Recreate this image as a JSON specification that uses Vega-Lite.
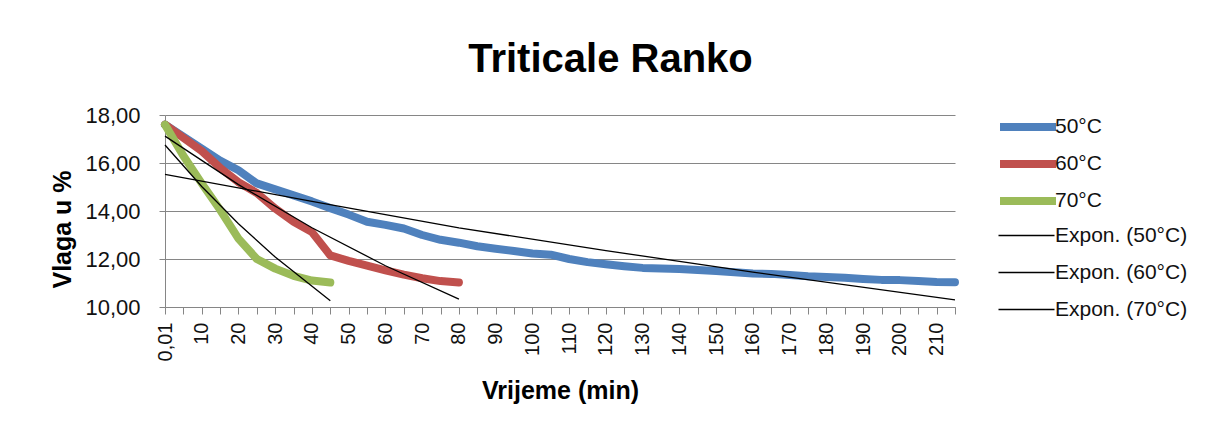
{
  "$schema": "https://vega.github.io/schema/vega-lite/v6.json",
  "width": 790,
  "height": 192,
  "autosize": {"type": "none"},
  "padding": {"left": 165, "top": 115, "right": 257, "bottom": 128},
  "background": "white",
  "config": {
    "font": "Liberation Sans",
    "view": {"stroke": null}
  },
  "title": {
    "text": "Triticale Ranko",
    "font": "Liberation Sans",
    "fontSize": 40,
    "fontWeight": "bold",
    "color": "#000000",
    "anchor": "middle",
    "frame": "bounds",
    "offset": 24,
    "dx": -9
  },
  "encoding": {
    "x": {
      "field": "t",
      "type": "quantitative",
      "scale": {"domain": [0.01, 215], "nice": false, "zero": false},
      "axis": {
        "title": "Vrijeme (min)",
        "values": [0.01, 5, 10, 15, 20, 25, 30, 35, 40, 45, 50, 55, 60, 65, 70, 75, 80, 85, 90, 95, 100, 105, 110, 115, 120, 125, 130, 135, 140, 145, 150, 155, 160, 165, 170, 175, 180, 185, 190, 195, 200, 205, 210, 215],
        "labelExpr": "datum.value < 1 ? '0,01' : (datum.value % 10 == 0 ? '' + datum.value : '')",
        "labelAngle": -90,
        "labelFontSize": 20,
        "labelColor": "#111111",
        "labelPadding": 8,
        "labelOverlap": false,
        "labelFlush": false,
        "labelBound": false,
        "tickSize": 7,
        "tickColor": "#868686",
        "domainColor": "#868686",
        "grid": false,
        "titleFontSize": 25,
        "titleFontWeight": "bold",
        "titleColor": "#000000",
        "titlePadding": 18
      }
    },
    "y": {
      "field": "v",
      "type": "quantitative",
      "scale": {"domain": [10, 18], "nice": false, "zero": false},
      "axis": {
        "title": "Vlaga u %",
        "values": [10, 12, 14, 16, 18],
        "labelExpr": "replace(format(datum.value, '.2f'), '.', ',')",
        "labelFontSize": 22,
        "labelColor": "#111111",
        "labelPadding": 19,
        "tickSize": 6,
        "tickColor": "#868686",
        "domainColor": "#868686",
        "grid": true,
        "gridColor": "#868686",
        "gridWidth": 1,
        "titleFontSize": 25,
        "titleFontWeight": "bold",
        "titleColor": "#000000",
        "titlePadding": 9,
        "titleY": 114
      }
    }
  },
  "layer": [
    {
      "data": {
        "values": [
          {"t": 0.01, "v": 17.6, "s": "50°C"},
          {"t": 5, "v": 17.1, "s": "50°C"},
          {"t": 10, "v": 16.6, "s": "50°C"},
          {"t": 15, "v": 16.1, "s": "50°C"},
          {"t": 20, "v": 15.7, "s": "50°C"},
          {"t": 25, "v": 15.15, "s": "50°C"},
          {"t": 30, "v": 14.9, "s": "50°C"},
          {"t": 35, "v": 14.65, "s": "50°C"},
          {"t": 40, "v": 14.4, "s": "50°C"},
          {"t": 45, "v": 14.12, "s": "50°C"},
          {"t": 50, "v": 13.85, "s": "50°C"},
          {"t": 55, "v": 13.55, "s": "50°C"},
          {"t": 60, "v": 13.42, "s": "50°C"},
          {"t": 65, "v": 13.27, "s": "50°C"},
          {"t": 70, "v": 13.0, "s": "50°C"},
          {"t": 75, "v": 12.8, "s": "50°C"},
          {"t": 80, "v": 12.68, "s": "50°C"},
          {"t": 85, "v": 12.53, "s": "50°C"},
          {"t": 90, "v": 12.43, "s": "50°C"},
          {"t": 95, "v": 12.33, "s": "50°C"},
          {"t": 100, "v": 12.23, "s": "50°C"},
          {"t": 105, "v": 12.18, "s": "50°C"},
          {"t": 110, "v": 12.0, "s": "50°C"},
          {"t": 115, "v": 11.87, "s": "50°C"},
          {"t": 120, "v": 11.78, "s": "50°C"},
          {"t": 125, "v": 11.7, "s": "50°C"},
          {"t": 130, "v": 11.63, "s": "50°C"},
          {"t": 135, "v": 11.6, "s": "50°C"},
          {"t": 140, "v": 11.58, "s": "50°C"},
          {"t": 145, "v": 11.54, "s": "50°C"},
          {"t": 150, "v": 11.5, "s": "50°C"},
          {"t": 155, "v": 11.45, "s": "50°C"},
          {"t": 160, "v": 11.4, "s": "50°C"},
          {"t": 165, "v": 11.38, "s": "50°C"},
          {"t": 170, "v": 11.33, "s": "50°C"},
          {"t": 175, "v": 11.28, "s": "50°C"},
          {"t": 180, "v": 11.25, "s": "50°C"},
          {"t": 185, "v": 11.22, "s": "50°C"},
          {"t": 190, "v": 11.17, "s": "50°C"},
          {"t": 195, "v": 11.13, "s": "50°C"},
          {"t": 200, "v": 11.12, "s": "50°C"},
          {"t": 205, "v": 11.08, "s": "50°C"},
          {"t": 210, "v": 11.04, "s": "50°C"},
          {"t": 215, "v": 11.03, "s": "50°C"},
          {"t": 0.01, "v": 17.6, "s": "60°C"},
          {"t": 5, "v": 17.05, "s": "60°C"},
          {"t": 10, "v": 16.5, "s": "60°C"},
          {"t": 15, "v": 15.8, "s": "60°C"},
          {"t": 20, "v": 15.2, "s": "60°C"},
          {"t": 25, "v": 14.75, "s": "60°C"},
          {"t": 30, "v": 14.1, "s": "60°C"},
          {"t": 35, "v": 13.55, "s": "60°C"},
          {"t": 40, "v": 13.12, "s": "60°C"},
          {"t": 45, "v": 12.15, "s": "60°C"},
          {"t": 50, "v": 11.92, "s": "60°C"},
          {"t": 55, "v": 11.72, "s": "60°C"},
          {"t": 60, "v": 11.53, "s": "60°C"},
          {"t": 65, "v": 11.35, "s": "60°C"},
          {"t": 70, "v": 11.2, "s": "60°C"},
          {"t": 75, "v": 11.08, "s": "60°C"},
          {"t": 80, "v": 11.02, "s": "60°C"},
          {"t": 0.01, "v": 17.6, "s": "70°C"},
          {"t": 5, "v": 16.3, "s": "70°C"},
          {"t": 10, "v": 15.15, "s": "70°C"},
          {"t": 15, "v": 14.05, "s": "70°C"},
          {"t": 20, "v": 12.85, "s": "70°C"},
          {"t": 25, "v": 12.0, "s": "70°C"},
          {"t": 30, "v": 11.6, "s": "70°C"},
          {"t": 35, "v": 11.3, "s": "70°C"},
          {"t": 40, "v": 11.1, "s": "70°C"},
          {"t": 45, "v": 11.02, "s": "70°C"}
        ]
      },
      "mark": {"type": "line", "strokeWidth": 8, "strokeCap": "round", "strokeJoin": "round"},
      "encoding": {
        "color": {
          "field": "s",
          "type": "nominal",
          "scale": {
            "domain": ["50°C", "60°C", "70°C"],
            "range": ["#4F81BD", "#C0504D", "#9BBB59"]
          },
          "legend": {
            "title": null,
            "orient": "none",
            "legendX": 851,
            "legendY": 0,
            "padding": 0,
            "symbolType": "M-3.5,0H3.5",
            "symbolSize": 256,
            "symbolStrokeWidth": 8,
            "labelOffset": 15,
            "labelFontSize": 21,
            "labelColor": "#111111",
            "labelLimit": 300,
            "rowPadding": 5
          }
        }
      }
    },
    {
      "data": {
        "values": [
          {"t": 0.01, "v": 15.53, "trend": "Expon. (50°C)"},
          {"t": 40, "v": 14.4, "trend": "Expon. (50°C)"},
          {"t": 80, "v": 13.3, "trend": "Expon. (50°C)"},
          {"t": 120, "v": 12.35, "trend": "Expon. (50°C)"},
          {"t": 160, "v": 11.45, "trend": "Expon. (50°C)"},
          {"t": 215, "v": 10.3, "trend": "Expon. (50°C)"},
          {"t": 0.01, "v": 17.12, "trend": "Expon. (60°C)"},
          {"t": 20, "v": 15.1, "trend": "Expon. (60°C)"},
          {"t": 40, "v": 13.3, "trend": "Expon. (60°C)"},
          {"t": 60, "v": 11.72, "trend": "Expon. (60°C)"},
          {"t": 80, "v": 10.33, "trend": "Expon. (60°C)"},
          {"t": 0.01, "v": 16.75, "trend": "Expon. (70°C)"},
          {"t": 10, "v": 15.02, "trend": "Expon. (70°C)"},
          {"t": 20, "v": 13.47, "trend": "Expon. (70°C)"},
          {"t": 30, "v": 12.08, "trend": "Expon. (70°C)"},
          {"t": 45, "v": 10.26, "trend": "Expon. (70°C)"}
        ]
      },
      "mark": {"type": "line", "strokeWidth": 1.3},
      "encoding": {
        "stroke": {
          "field": "trend",
          "type": "nominal",
          "scale": {
            "domain": ["Expon. (50°C)", "Expon. (60°C)", "Expon. (70°C)"],
            "range": ["#000000", "#000000", "#000000"]
          },
          "legend": {
            "title": null,
            "orient": "none",
            "legendX": 851,
            "legendY": 110,
            "padding": 0,
            "symbolType": "M-3.5,0H3.5",
            "symbolSize": 256,
            "symbolStrokeWidth": 1.3,
            "labelOffset": 18,
            "labelFontSize": 21,
            "labelColor": "#111111",
            "labelLimit": 300,
            "rowPadding": 15
          }
        }
      }
    }
  ]
}
